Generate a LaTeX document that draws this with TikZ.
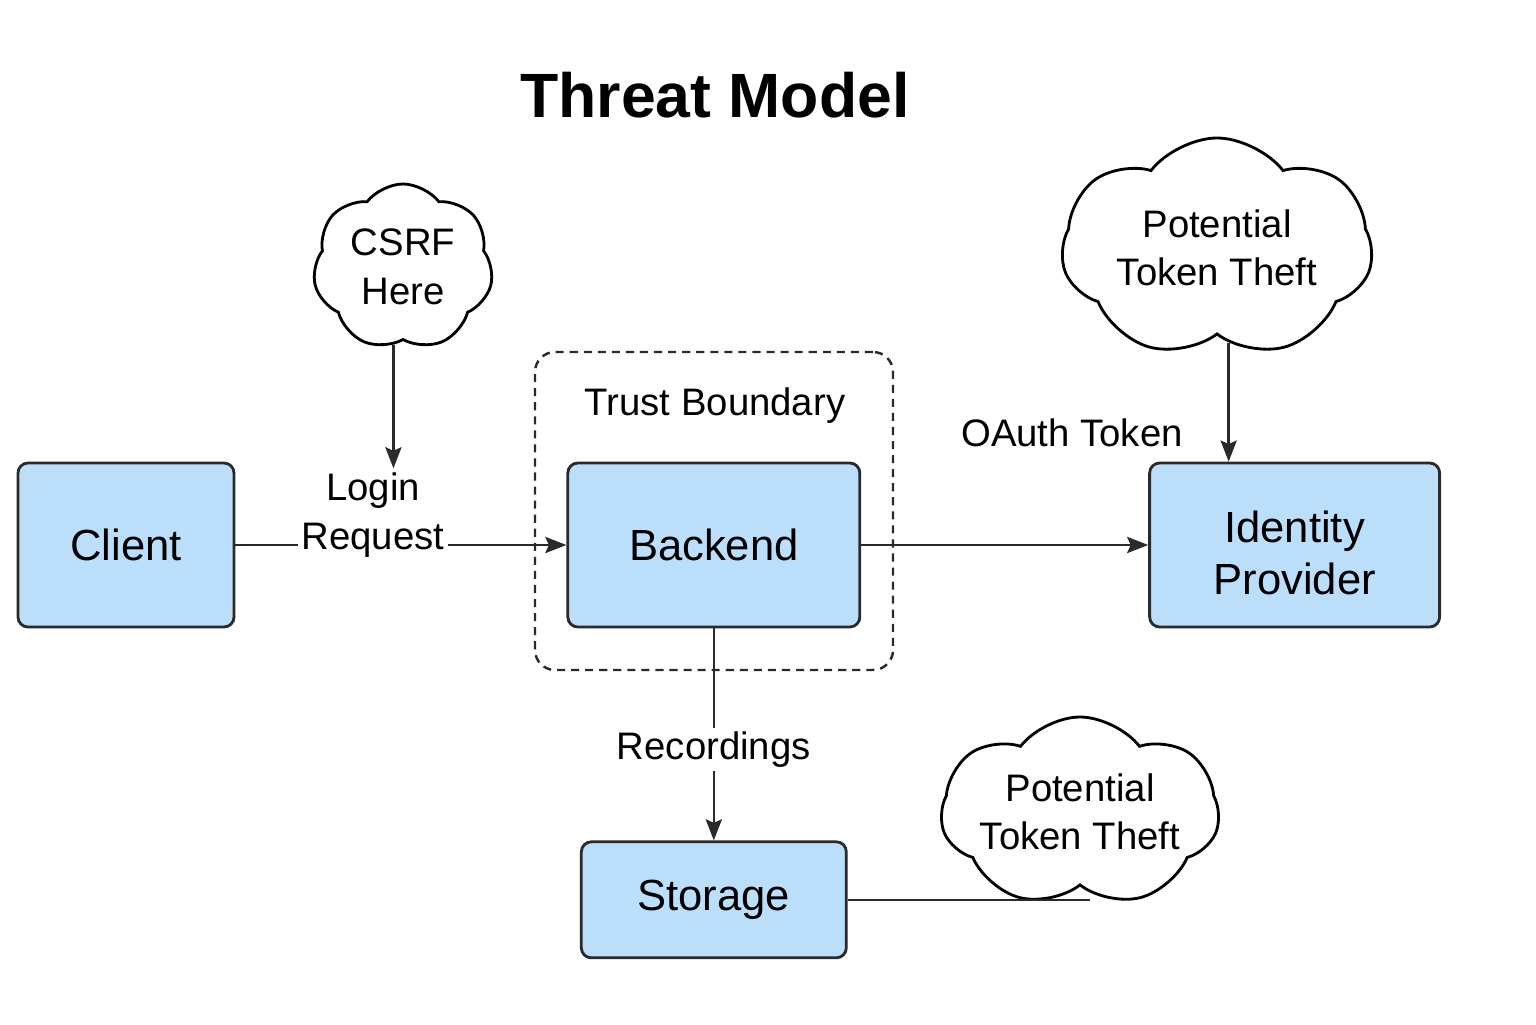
\documentclass[tikz,border=0pt]{standalone}
\usepackage{fontspec}
\setmainfont{Liberation Sans}
\usetikzlibrary{positioning}
\usetikzlibrary{calc}
\usetikzlibrary{arrows.meta}
\usetikzlibrary{shapes.symbols}
\definecolor{boxblue}{HTML}{BBDFFB}
\definecolor{edge}{HTML}{2A2A2A}

\begin{document}
\begin{tikzpicture}[
    box/.style={draw=edge, fill=boxblue, line width=0.8pt, rounded corners=1mm, align=center, font=\fontsize{12.4}{14.8}\selectfont},
    cloudy/.style={draw=black, cloud, cloud puffs=7, cloud puff arc=105, cloud ignores aspect, line width=0.8pt, align=center, font=\fontsize{10.9}{13.8}\selectfont, inner sep=0pt},
    lbl/.style={align=center, font=\fontsize{10.9}{14}\selectfont, inner sep=1pt},
    arr/.style={draw=edge, line width=0.7pt, -{Stealth[length=6pt, width=4.6pt, inset=1pt]}}]
            \useasboundingbox (0,0) rectangle (15.36,10.24);

            \node[font=\bfseries\fontsize{17.8}{20}\selectfont] (title) at (7.15, 9.29) {Threat Model};

            % trust boundary
            \node[draw=edge, dashed, dash pattern=on 2.3pt off 1.7pt, line width=0.7pt, rounded corners=2mm,
                  minimum width=3.58cm, minimum height=3.18cm] (trust) at (7.14, 5.13) {};
            \node[lbl] (trustlbl) at (7.15, 6.18) {Trust Boundary};

            % boxes
            \node[box, minimum width=2.16cm, minimum height=1.64cm] (client) at (1.26, 4.79) {Client};
            \node[box, minimum width=2.92cm, minimum height=1.64cm, right = 3.31cm of client] (back) {Backend};
            \node[box, minimum width=2.90cm, minimum height=1.64cm, right = 2.87cm of back] (idp) {\rule{0pt}{0.47cm}Identity\\Provider};
            \node[box, minimum width=2.65cm, minimum height=1.16cm, below = 2.12cm of back] (stor) {Storage};

            % clouds
            \node[cloudy, minimum width=1.80cm, minimum height=1.66cm] (csrf) at (4.03, 7.57) {CSRF\\Here};
            \node[cloudy, minimum width=3.11cm, minimum height=2.20cm, shape border rotate=12] (theftA) at (12.17, 7.76) {Potential\\Token Theft};
            \node[cloudy, minimum width=2.65cm, minimum height=1.90cm, shape border rotate=-10] (theftB) at (10.80, 2.12) {Potential\\Token Theft};

            % connectors
            \draw[arr] (client) -- (back);
            \node[lbl, fill=white] (login) at (3.73, 5.09) {Login\\Request};
            \draw[arr] (csrf.-97) -- (csrf.-97 |- login.north);

            \draw[arr] (back) -- (idp);
            \node[lbl] (oauth) at (10.72, 5.91) {OAuth Token};
            \draw[arr] (theftA.-83) -- (theftA.-83 |- idp.north);

            \draw[arr] (back) -- node[lbl, fill=white, pos=0.57] (rec) {Recordings} (stor);
            \draw[edge, line width=0.7pt] (stor.east) -- (stor.east -| theftB.-83);
        \end{tikzpicture}
\end{document}
